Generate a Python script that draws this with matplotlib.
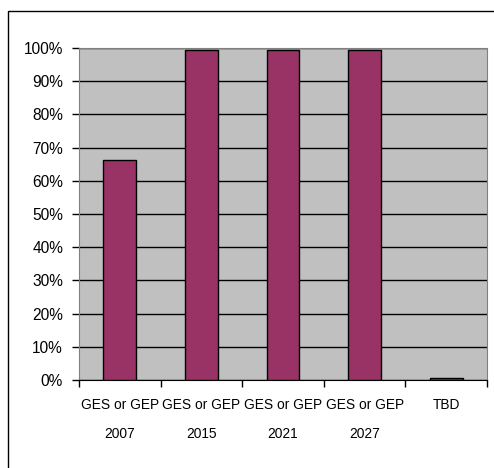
import numpy as np
import matplotlib
matplotlib.use("Agg")
import matplotlib.pyplot as plt
from matplotlib.patches import Rectangle
from matplotlib.ticker import PercentFormatter

#chart data
categories = ["GES or GEP\n2007", "GES or GEP\n2015", "GES or GEP\n2021", "GES or GEP\n2027", "TBD"]
shares = [66.3, 99.4, 99.4, 99.4, 0.5]

plt.rcParams['font.family'] = ['Liberation Sans', 'DejaVu Sans']

fig = plt.figure(figsize=(4.94, 4.68), dpi=100)

#outer chart border (runs off the right and bottom of the picture)
fig.patches.append(Rectangle((8 / 494, -0.05), 1.0, 1 - 11 / 468 + 0.05,
                             transform=fig.transFigure, fill=False,
                             edgecolor='black', linewidth=1.0))

ax = fig.add_axes([79 / 494, 1 - 380 / 468, 408 / 494, 332 / 468])
ax.set_facecolor('#C0C0C0')

x = np.arange(len(categories))
ax.bar(x, shares, width=0.4, color='#993366', edgecolor='black', linewidth=1.0, zorder=3)

ax.set_xlim(-0.5, len(categories) - 0.5)
ax.set_ylim(0, 100)
ax.set_yticks(np.arange(0, 101, 10))
ax.yaxis.set_major_formatter(PercentFormatter(decimals=0))
ax.grid(axis='y', color='black', linewidth=1.0, zorder=1)

#category labels sit between boundary ticks
ax.set_xticks(x)
ax.set_xticklabels(categories, fontsize=9.9, linespacing=2.4)
ax.set_xticks(np.arange(-0.5, len(categories)), minor=True)
ax.tick_params(axis='x', which='major', length=0, pad=13)
ax.tick_params(axis='x', which='minor', length=5, width=1, color='black', direction='out')
ax.tick_params(axis='y', length=5, width=1, color='black', labelsize=11.2, pad=6.5)

for side in ['top', 'right', 'left']:
    ax.spines[side].set_color('#808080')
ax.spines['bottom'].set_color('black')

fig.savefig("out.png", dpi=100)
